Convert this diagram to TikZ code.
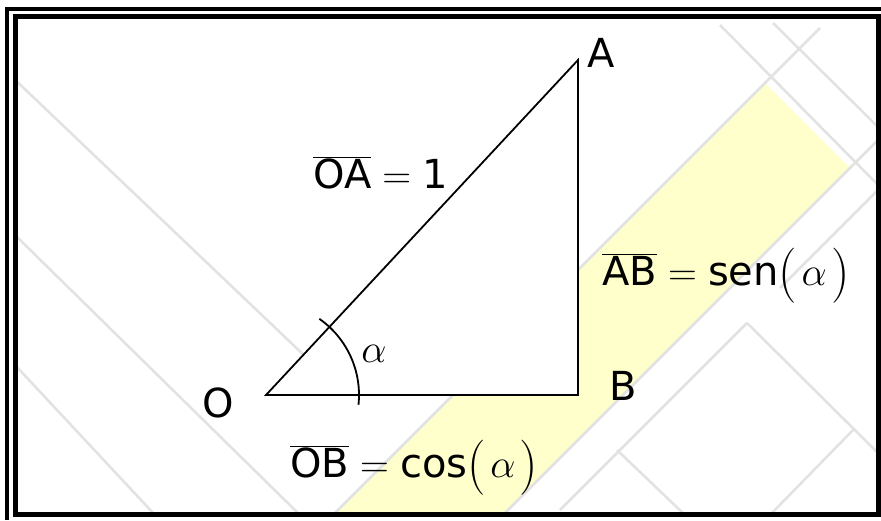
\RequirePackage{fix-cm}
\documentclass[tikz,border=0pt]{standalone}
\usepackage{graphicx}
\usepackage{fontspec}
\setmainfont{DejaVu Sans}
\usetikzlibrary{calc}
\definecolor{bandYellow}{RGB}{255,255,204}
\definecolor{markGray}{RGB}{226,226,226}
\newcommand{\tallpar}[1]{\raisebox{-4pt}{\scalebox{1.3}[1.38]{$#1$}}}
\tikzset{
	lbl/.style={font=\fontsize{40}{48}\selectfont, inner sep=0pt},
	wmline/.style={markGray, line width=2.5pt},
	side/.style={line width=1.8pt, line join=miter},
}

\begin{document}
\begin{tikzpicture}[x=1pt,y=-1pt]
	\useasboundingbox (0,0) rectangle (881,520);
	\fill[white] (0,0) rectangle (881,520);
	% background: yellow band and faint watermark lines
	\begin{scope}
		\clip (15,16) rectangle (878,515);
		\fill[bandYellow] (765,83) -- (850,168) -- (150,868) -- (65,783) -- cycle;
		\foreach \xa/\ya/\xb/\yb in {10/75/330/380, 15/235/300/515, 15/365/155/515,
			720/25/878/185, 773/23/878/127, 820/28/333/515, 878/140/503/515,
			878/190/780/288, 747/323/878/453, 747/323/560/510, 617/450/685/515,
			853/430/770/515}
		\draw[wmline] (\xa,\ya) -- (\xb,\yb);
	\end{scope}
	% frame
	\draw[line width=4pt] (7,520) -- (7,9) -- (881,9);
	\draw[line width=5pt] (15,16.5) rectangle (878.5,514.5);
	% triangle
	\coordinate (O) at (266,395);
	\coordinate (B) at (578,395);
	\coordinate (A) at (578,60);
	\filldraw[fill=white, side] (O) -- (B) -- (A) -- cycle;
	\draw[side] ($(O)+(-55:93)$) arc[start angle=-55, end angle=6, radius=93];
	% labels
	\node[lbl, anchor=base] (labA) at (601,67) {A};
	\node[lbl, anchor=base] (labB) at (623,400) {B};
	\node[lbl, anchor=base] (labO) at (218,417) {O};
	\node[lbl, anchor=base] (labAlpha) at (374,362) {$\alpha$};
	\node[lbl, anchor=base west] (labOA) at (313,188) {$\overline{\mbox{OA}} = \mbox{1}$};
	\node[lbl, anchor=base west] (labAB) at (602,285)
		{$\overline{\mbox{AB}} = \mbox{sen}\tallpar{(}\mkern2mu\alpha\mkern2mu\tallpar{)}$};
	\node[lbl, anchor=base west] (labOB) at (290,477)
		{$\overline{\mbox{OB}} = \mbox{cos}\tallpar{(}\mkern2mu\alpha\mkern2mu\tallpar{)}$};
\end{tikzpicture}
\end{document}
